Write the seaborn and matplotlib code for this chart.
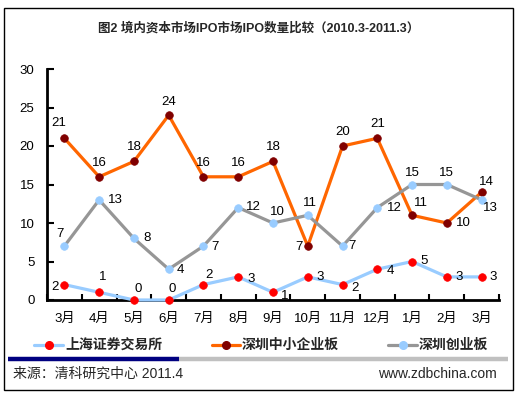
import numpy as np
import pandas as pd
import matplotlib
matplotlib.use("Agg")
import matplotlib.pyplot as plt
import seaborn as sns
from matplotlib.lines import Line2D
from matplotlib.patches import Rectangle

months = ["3月", "4月", "5月", "6月", "7月", "8月", "9月", "10月", "11月", "12月", "1月", "2月", "3月"]
sh_main = [2, 1, 0, 0, 2, 3, 1, 3, 2, 4, 5, 3, 3]
sz_sme = [21, 16, 18, 24, 16, 16, 18, 7, 20, 21, 11, 10, 14]
sz_gem = [7, 13, 8, 4, 7, 12, 10, 11, 7, 12, 15, 15, 13]
names = ["上海证券交易所", "深圳中小企业板", "深圳创业板"]

# label offsets in pixels (dx, dy), one per point
off_sh = [(-9, -2), (4, 15), (4, 11), (3, 11), (6, 10), (13, -2), (12, -4),
          (12, 0), (12, -3), (13, -2), (12, 0), (12, 0), (12, 0)]
off_sme = [(-6, 15), (0, 14), (0, 14), (0, 13), (0, 14), (0, 14), (0, 14),
           (-9, -1), (0, 14), (0, 14), (9, 12), (17, 0), (5, 10)]
off_gem = [(-4, 12), (16, 0), (13, 0), (12, -1), (12, -1), (15, 1), (4, 11),
           (2, 12), (9, 0), (17, 0), (0, 12), (0, 12), (9, -8)]

sns.set_theme(style="white")
plt.rcParams["font.family"] = ["Liberation Sans", "Noto Sans CJK SC"]
plt.rcParams["axes.unicode_minus"] = False

W, H = 520, 395
fig = plt.figure(figsize=(W / 100, H / 100), dpi=100)
ax = fig.add_axes([47 / W, 1 - 300 / H, 452 / W, 231 / H])

x = np.arange(len(months))
styles = [
    (sh_main, "#99CCFF", "#FF0000", off_sh),
    (sz_sme, "#FF6600", "#800000", off_sme),
    (sz_gem, "#969696", "#99CCFF", off_gem),
]
for vals, lc, mc, offs in styles:
    sns.lineplot(x=x, y=vals, ax=ax, color=lc, linewidth=2.3, marker="o",
                 clip_on=False, zorder=3)
    ln = ax.lines[-1]
    ln.set_markersize(5.5)
    ln.set_markerfacecolor(mc)
    ln.set_markeredgecolor(mc)
    ln.set_markeredgewidth(0.5)
    for xi, v, (dx, dy) in zip(x, vals, offs):
        ax.annotate(str(v), (xi, v), xytext=(dx, dy), textcoords="offset pixels",
                    ha="center", va="center", fontsize=9.5, color="black")

ax.set_xlim(-0.5, len(months) - 0.5)
ax.set_ylim(0, 30)
ax.set_yticks(range(0, 31, 5))
ax.set_xticks(x)
ax.set_xticklabels(months)
ax.set_xticks(np.arange(-0.5, len(months), 1), minor=True)
ax.tick_params(axis="x", which="major", length=0, pad=9, labelsize=9.5, colors="black")
ax.tick_params(axis="x", which="minor", direction="in", length=4, width=1.5, color="black", bottom=True)
ax.tick_params(axis="y", direction="in", length=5, width=1.5, pad=9, labelsize=9.5,
               colors="black", left=True)
for s in ["top", "right"]:
    ax.spines[s].set_visible(False)
for s in ["left", "bottom"]:
    ax.spines[s].set_color("black")
    ax.spines[s].set_linewidth(2)
ax.set_xlabel("")
ax.set_ylabel("")

# outer frame
fig.add_artist(Rectangle((3.5 / W, 1 - 390 / H), 509 / W, 382 / H, transform=fig.transFigure,
                         fill=False, edgecolor="black", linewidth=1))

fig.text(259 / W, 1 - 28 / H, "图2 境内资本市场IPO市场IPO数量比较（2010.3-2011.3）",
         ha="center", va="center", fontsize=9, fontweight="bold")

# legend row
leg_y = 1 - 345 / H
leg_x = [(34, 63), (212, 240), (388, 417)]
for (x0, x1), (vals, lc, mc, offs), name in zip(leg_x, styles, names):
    fig.add_artist(Line2D([x0 / W, x1 / W], [leg_y, leg_y], transform=fig.transFigure,
                          color=lc, linewidth=2.3))
    fig.add_artist(Line2D([(x0 + x1) / 2 / W], [leg_y], transform=fig.transFigure,
                          marker="o", markersize=5.5, color=mc, linestyle="none"))
    fig.text((x1 + 2) / W, leg_y, name, ha="left", va="center", fontsize=10,
             fontweight="bold")

# separator bar
bar_y = 1 - 359 / H
fig.add_artist(Line2D([8 / W, 179 / W], [bar_y, bar_y], transform=fig.transFigure,
                      color="#000080", linewidth=3.2, solid_capstyle="butt"))
fig.add_artist(Line2D([179 / W, 508 / W], [bar_y, bar_y], transform=fig.transFigure,
                      color="#C0C0C0", linewidth=3.2, solid_capstyle="butt"))

fig.text(13 / W, 1 - 374 / H, "来源：清科研究中心 2011.4", ha="left", va="center", fontsize=10)
fig.text(497 / W, 1 - 374 / H, "www.zdbchina.com", ha="right", va="center", fontsize=10)

fig.savefig("out.png", dpi=100)
